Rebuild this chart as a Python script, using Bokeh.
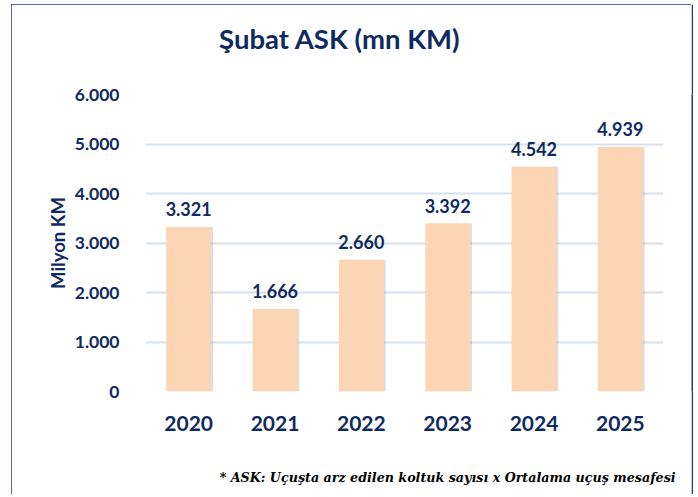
from bokeh.plotting import figure
from bokeh.layouts import row, column
from bokeh.models import FixedTicker, ColumnDataSource, CategoricalAxis, FactorRange
from bokeh.transform import dodge
from bokeh.embed import file_html
from bokeh.resources import INLINE
from bokeh.core.properties import value

years = ["2020", "2021", "2022", "2023", "2024", "2025"]
ask = [3321, 1666, 2660, 3392, 4542, 4939]
y_ticks = [0, 1000, 2000, 3000, 4000, 5000, 6000]
y_tick_labels = ["0", "1.000", "2.000", "3.000", "4.000", "5.000", "6.000"]
title_text = "Şubat ASK (mn KM)"
y_title = "Milyon KM"
footnote = "* ASK: Uçuşta arz edilen koltuk sayısı x Ortalama uçuş mesafesi"

NAVY = "#0f2a5f"
BAR = "#fbd5b4"
GRID = "#d5e0f1"
BORDER = "#1f3c7c"

labels = [f"{v:,}".replace(",", ".") for v in ask]
src = ColumnDataSource(dict(year=years, ask=ask, label=labels))

W, H, B = 680, 490, 2
fig = figure(x_range=years, y_range=(0, 6000), width=W, height=H,
             output_backend="svg", toolbar_location=None, title_location=None,
             min_border_left=134, min_border_right=28,
             min_border_top=90, min_border_bottom=103)
fig.styles = {"outline": f"2px solid {BORDER}", "outline-offset": "-2px"}
fig.outline_line_color = None
fig.background_fill_color = "white"
fig.border_fill_color = "white"

# soft shadow behind the bars
fig.vbar(x=dodge("year", 0.022, range=fig.x_range), top="ask", width=0.52,
         source=src, fill_color="#808080", fill_alpha=0.25, line_color=None)
fig.vbar(x="year", top="ask", width=0.52, source=src,
         fill_color=BAR, line_color=None)

fig.text(x="year", y="ask", text="label", source=src, text_align="center",
         text_baseline="alphabetic", y_offset=-18,
         text_font=value("Lato"), text_font_style="bold",
         text_font_size="18px", text_color=NAVY)

fig.xgrid.grid_line_color = None
fig.ygrid.grid_line_color = GRID
fig.ygrid.grid_line_width = 2

fig.yaxis.ticker = FixedTicker(ticks=y_ticks)
fig.yaxis.major_label_overrides = {t: l for t, l in zip(y_ticks, y_tick_labels)}
for ax in (fig.xaxis[0], fig.yaxis[0]):
    ax.axis_line_color = None
    ax.major_tick_line_color = None
    ax.minor_tick_line_color = None
    ax.major_label_text_font = "Lato"
    ax.major_label_text_font_style = "bold"
    ax.major_label_text_color = NAVY
fig.yaxis.major_label_text_font_size = "17.5px"
fig.yaxis.major_label_standoff = 20
fig.xaxis.major_label_text_font_size = "21px"
fig.xaxis.major_label_standoff = 18

fig.yaxis.axis_label = y_title
fig.yaxis.axis_label_text_font = "Lato"
fig.yaxis.axis_label_text_font_style = "bold"
fig.yaxis.axis_label_text_font_size = "18.5px"
fig.yaxis.axis_label_text_color = NAVY
fig.yaxis.axis_label_standoff = 3

# title and footnote: one labelled slot on an extra axis; other slots are blank
head_slots = [" ", title_text, "  ", "   "]
foot_slots = [" ", "  ", "   ", footnote, "    ", "     "]
fig.extra_x_ranges = {"head": FactorRange(factors=head_slots),
                      "foot": FactorRange(factors=foot_slots)}

def slot_axis(rng, standoff, font, size, style, color):
    return CategoricalAxis(x_range_name=rng,
                           axis_line_color=None, major_tick_line_color=None,
                           minor_tick_line_color=None,
                           major_label_standoff=standoff,
                           major_label_text_color=color,
                           major_label_text_font=font,
                           major_label_text_font_style=style,
                           major_label_text_font_size=size)

fig.add_layout(slot_axis("head", 34, "Lato", "27.5px", "bold", NAVY), "above")
fig.add_layout(slot_axis("foot", 30, "DejaVu Serif", "12.7px", "bold italic", "black"),
               "below")

# right and bottom edges of the navy frame as thin solid panels
def edge(w, h):
    e = figure(width=w, height=h, output_backend="svg", toolbar_location=None,
               x_axis_location=None, y_axis_location=None, title_location=None,
               min_border=0)
    e.outline_line_color = None
    e.background_fill_color = BORDER
    e.border_fill_color = BORDER
    e.grid.visible = False
    return e

right_edge = edge(B, H)
bottom_edge = edge(W + B, B)

p = column(row(fig, right_edge, spacing=0), bottom_edge, spacing=0,
           styles={"margin-left": "11px", "margin-top": "4px"})

open("out.html", "w").write(file_html(p, INLINE))
